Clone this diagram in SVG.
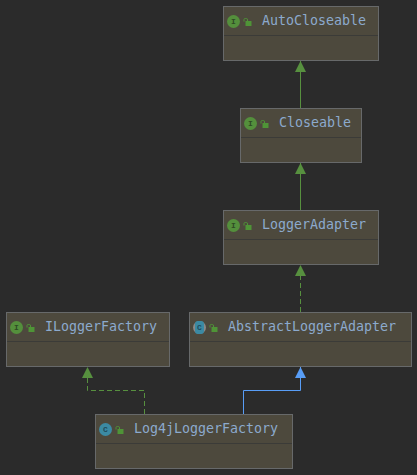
<svg xmlns="http://www.w3.org/2000/svg" width="417" height="475" viewBox="0 0 417 475">
<style>
.box{fill:#4d493d;stroke:#67696a;stroke-width:1}
.div{stroke:#3b3b38;stroke-width:1}
.t{font-family:"DejaVu Sans Mono","Liberation Mono",monospace;font-size:13.3px;fill:#8caacd}
.i{fill:#548f3c}
.c{fill:#3b8aa3}
.g{font-family:"Liberation Mono",monospace;font-size:8px;font-weight:bold;fill:#2f4a25;text-anchor:middle}
.gc{fill:#1f4a5a}
.lock{fill:#4f9437}
.shackle{fill:none;stroke:#4f9437;stroke-width:1}
.green{fill:none;stroke:#57903f;stroke-width:1}
.blue{fill:none;stroke:#589df6;stroke-width:1}
.dash{stroke-dasharray:5 3}
</style>
<defs>
<g id="lk"><rect x="2" y="3" width="6" height="5" class="lock"/><path d="M0.5 3.5V1.5Q0.5 0.5 2 0.5H3Q4 0.5 4 2V3" class="shackle"/></g>
<marker id="ag" markerUnits="userSpaceOnUse" markerWidth="12" markerHeight="12" refX="11" refY="5.5" orient="auto"><path d="M0 0L11 5.5L0 11Z" fill="#57903f"/></marker>
<marker id="ab" markerUnits="userSpaceOnUse" markerWidth="12" markerHeight="12" refX="11" refY="5.5" orient="auto"><path d="M0 0L11 5.5L0 11Z" fill="#589df6"/></marker>
</defs>
<rect width="417" height="475" fill="#2b2b2b"/>
<g id="connectors">
<path class="green" d="M300.500 108V61" marker-end="url(#ag)"/>
<path class="green" d="M300.500 210V163" marker-end="url(#ag)"/>
<path class="green dash" d="M300.500 312V265" marker-end="url(#ag)"/>
<path class="blue" d="M243.500 414V390.500H300.500V367" marker-end="url(#ab)"/>
<path class="green dash" d="M144.500 414V390.500H87.500V367" marker-end="url(#ag)"/>
</g>
<g id="AutoCloseable">
<rect class="box" x="223.500" y="6.500" width="155" height="54"/><path class="div" d="M224 35.500H378"/>
<circle class="i" cx="233.500" cy="21.500" r="6.500"/><text class="g" x="233.500" y="24">I</text>
<use href="#lk" x="243.500" y="18"/>
<text class="t" x="262" y="25">AutoCloseable</text>
</g>
<g id="Closeable">
<rect class="box" x="240.500" y="108.500" width="121" height="54"/><path class="div" d="M241 137.500H361"/>
<circle class="i" cx="250.500" cy="123.500" r="6.500"/><text class="g" x="250.500" y="126">I</text>
<use href="#lk" x="260.500" y="120"/>
<text class="t" x="279" y="127">Closeable</text>
</g>
<g id="LoggerAdapter">
<rect class="box" x="223.500" y="210.500" width="155" height="54"/><path class="div" d="M224 239.500H378"/>
<circle class="i" cx="233.500" cy="225.500" r="6.500"/><text class="g" x="233.500" y="228">I</text>
<use href="#lk" x="243.500" y="222"/>
<text class="t" x="262" y="229">LoggerAdapter</text>
</g>
<g id="ILoggerFactory">
<rect class="box" x="6.500" y="312.500" width="163" height="54"/><path class="div" d="M7 341.500H169"/>
<circle class="i" cx="16.500" cy="327.500" r="6.500"/><text class="g" x="16.500" y="330">I</text>
<use href="#lk" x="26.500" y="324"/>
<text class="t" x="45" y="331">ILoggerFactory</text>
</g>
<g id="AbstractLoggerAdapter">
<rect class="box" x="189.500" y="312.500" width="222" height="54"/><path class="div" d="M190 341.500H411"/>
<circle cx="199.500" cy="327.500" r="6.500" fill="#8a8a88"/><rect class="c" x="195" y="321" width="9" height="13" rx="3"/><text class="g gc" x="199.500" y="330">C</text>
<use href="#lk" x="209.500" y="324"/>
<text class="t" x="228" y="331">AbstractLoggerAdapter</text>
</g>
<g id="Log4jLoggerFactory">
<rect class="box" x="95.500" y="414.500" width="197" height="54"/><path class="div" d="M96 443.500H292"/>
<circle class="c" cx="105.500" cy="429.500" r="6.500"/><text class="g gc" x="105.500" y="432">C</text>
<use href="#lk" x="115.500" y="426"/>
<text class="t" x="134" y="433">Log4jLoggerFactory</text>
</g>
</svg>
